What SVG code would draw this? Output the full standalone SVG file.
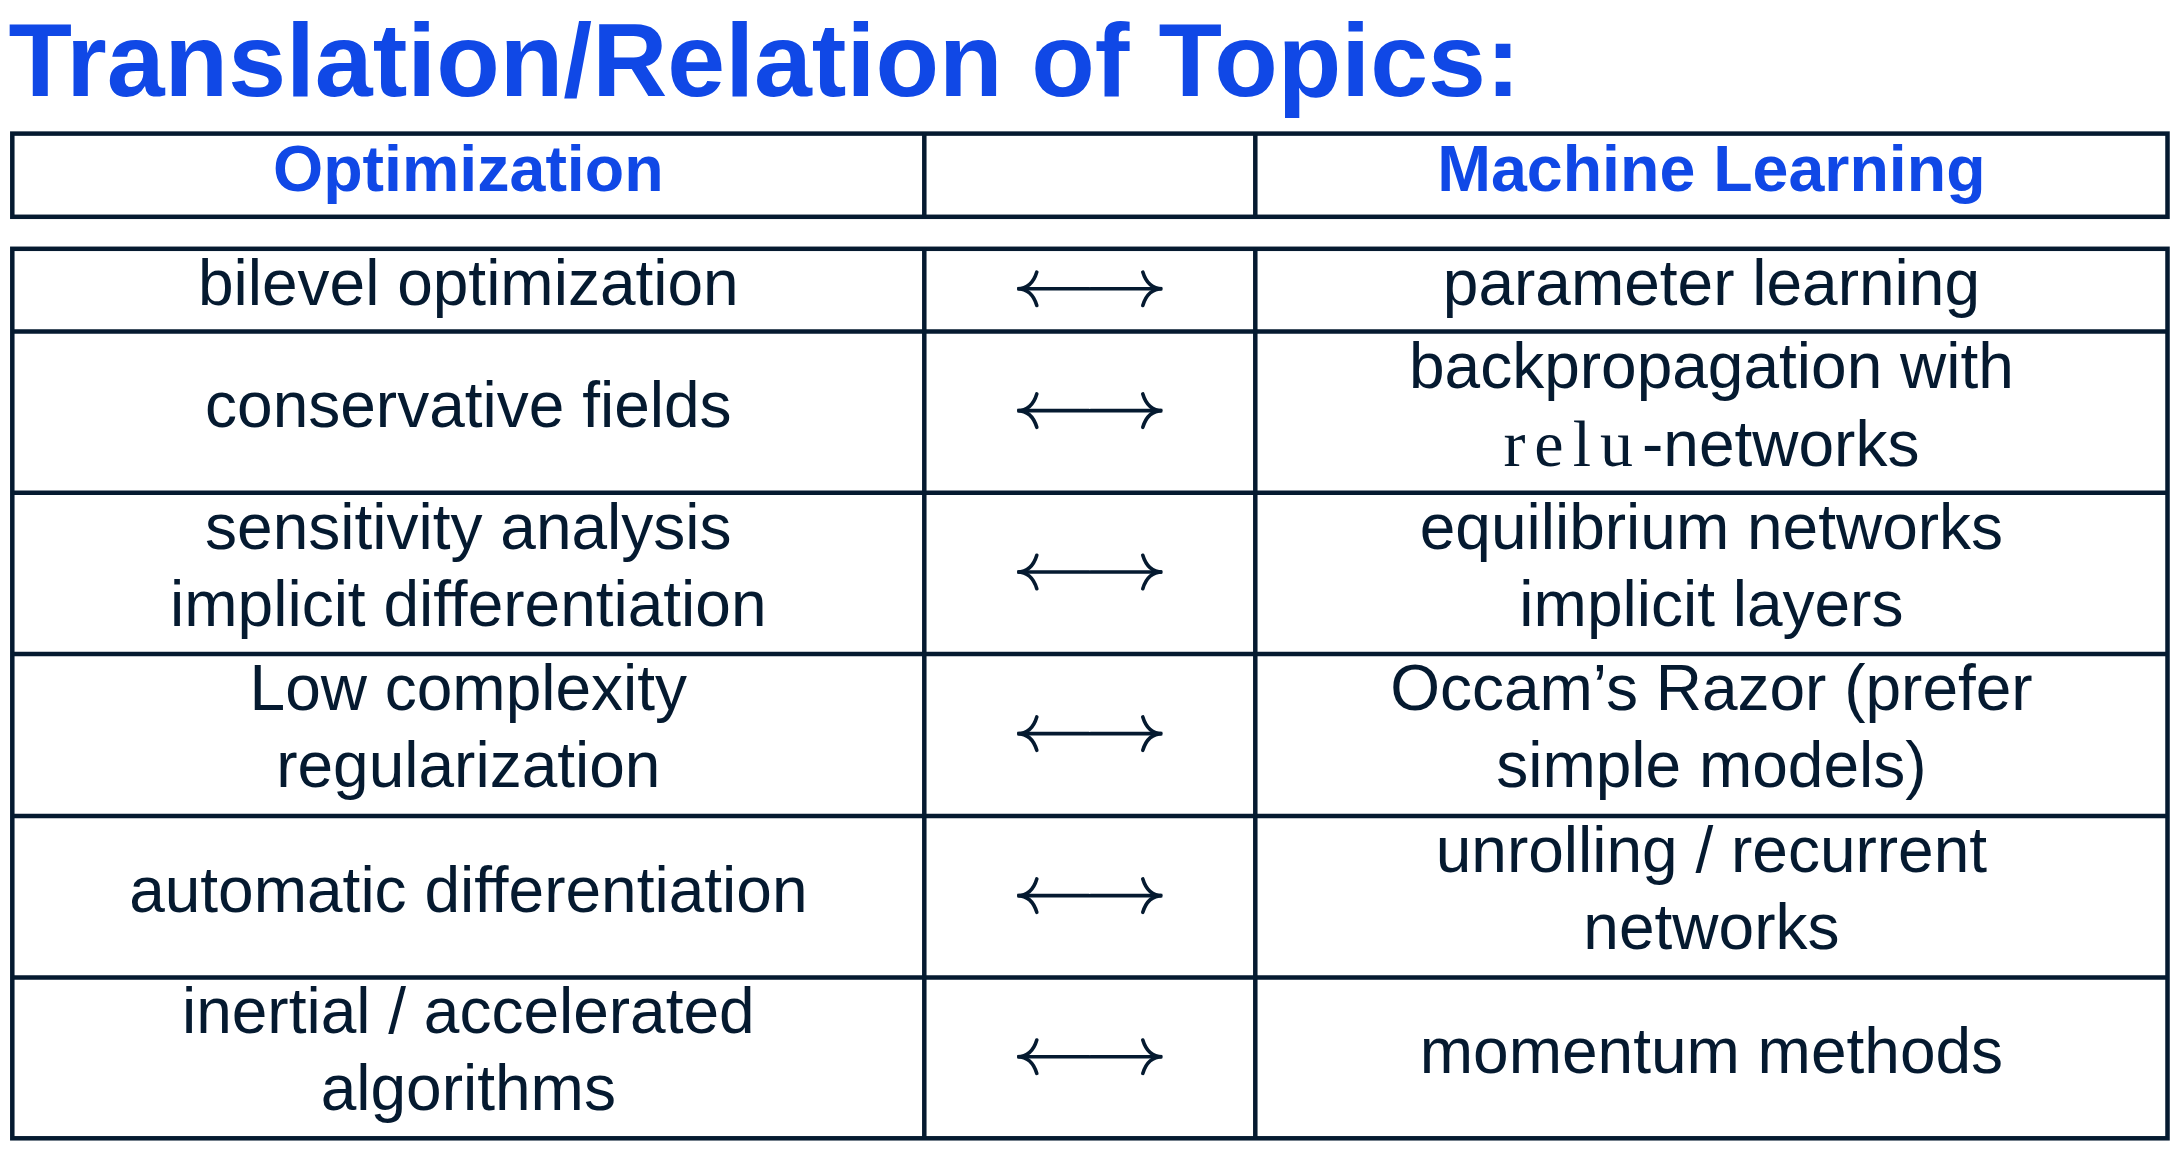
<svg xmlns="http://www.w3.org/2000/svg" width="2180" height="1159" viewBox="0 0 2180 1159">
<style>
.title{font-family:"Liberation Sans",Arial,sans-serif;font-weight:bold;font-size:104px;fill:#1048E6}
.hd{font-family:"Liberation Sans",Arial,sans-serif;font-weight:bold;font-size:64.5px;fill:#1048E6;text-anchor:middle}
.tx{font-family:"Liberation Sans",Arial,sans-serif;font-size:64px;fill:#051A30;text-anchor:middle}
.tt{font-family:"Liberation Serif","Times New Roman",serif;font-size:66px;letter-spacing:9px}
.ln{stroke:#051A30;stroke-width:4.5;fill:none}
.ar{stroke:#051A30;stroke-width:3.6;fill:none;stroke-linecap:round}
</style>
<defs>
<g id="dblarrow">
<path class="ar" d="M -53 -16.7 Q -58 0 -72.5 0 Q -58 0 -53 16.7"/>
<path class="ar" d="M 53 -16.7 Q 58 0 72.5 0 Q 58 0 53 16.7"/>
<path class="ar" d="M -71 0 H -0.8 M 0.8 0 H 71"/>
</g>
</defs>
<rect width="2180" height="1159" fill="#ffffff"/>
<text id="title" class="title" x="8.5" y="96">Translation/Relation of Topics:</text>

<g id="grid">
<rect class="ln" x="12.3" y="133.6" width="2155.2" height="83.2"/>
<line class="ln" x1="924.3" y1="133.6" x2="924.3" y2="216.8"/>
<line class="ln" x1="1255.3" y1="133.6" x2="1255.3" y2="216.8"/>
<rect class="ln" x="12.3" y="248.8" width="2155.2" height="889.5"/>
<line class="ln" x1="924.3" y1="248.8" x2="924.3" y2="1138.3"/>
<line class="ln" x1="1255.3" y1="248.8" x2="1255.3" y2="1138.3"/>
<line class="ln" x1="12.3" y1="331.5" x2="2167.5" y2="331.5"/>
<line class="ln" x1="12.3" y1="492.8" x2="2167.5" y2="492.8"/>
<line class="ln" x1="12.3" y1="654" x2="2167.5" y2="654"/>
<line class="ln" x1="12.3" y1="816" x2="2167.5" y2="816"/>
<line class="ln" x1="12.3" y1="977.5" x2="2167.5" y2="977.5"/>
</g>

<g id="header">
<text class="hd" x="468.3" y="190.7">Optimization</text>
<text class="hd" x="1711.4" y="190.7">Machine Learning</text>
</g>

<g id="row1">
<text class="tx" x="468.3" y="305">bilevel optimization</text>
<text class="tx" x="1711.4" y="305">parameter learning</text>
</g>
<g id="row2">
<text class="tx" x="468.3" y="427">conservative fields</text>
<text class="tx" x="1711.4" y="388.3">backpropagation with</text>
<text class="tx" x="1711.4" y="466"><tspan class="tt">relu</tspan>-networks</text>
</g>
<g id="row3">
<text class="tx" x="468.3" y="548.5">sensitivity analysis</text>
<text class="tx" x="468.3" y="626">implicit differentiation</text>
<text class="tx" x="1711.4" y="549">equilibrium networks</text>
<text class="tx" x="1711.4" y="626">implicit layers</text>
</g>
<g id="row4">
<text class="tx" x="468.3" y="710">Low complexity</text>
<text class="tx" x="468.3" y="787">regularization</text>
<text class="tx" x="1711.4" y="710">Occam’s Razor (prefer</text>
<text class="tx" x="1711.4" y="787">simple models)</text>
</g>
<g id="row5">
<text class="tx" x="468.3" y="911.8">automatic differentiation</text>
<text class="tx" x="1711.4" y="872.3">unrolling / recurrent</text>
<text class="tx" x="1711.4" y="949.3">networks</text>
</g>
<g id="row6">
<text class="tx" x="468.3" y="1033.4">inertial / accelerated</text>
<text class="tx" x="468.3" y="1110.4">algorithms</text>
<text class="tx" x="1711.4" y="1072.9">momentum methods</text>
</g>

<g id="connectors">
<use href="#dblarrow" x="1089.8" y="288.8"/>
<use href="#dblarrow" x="1089.8" y="410.6"/>
<use href="#dblarrow" x="1089.8" y="572"/>
<use href="#dblarrow" x="1089.8" y="733.6"/>
<use href="#dblarrow" x="1089.8" y="895.6"/>
<use href="#dblarrow" x="1089.8" y="1056.7"/>
</g>
</svg>
